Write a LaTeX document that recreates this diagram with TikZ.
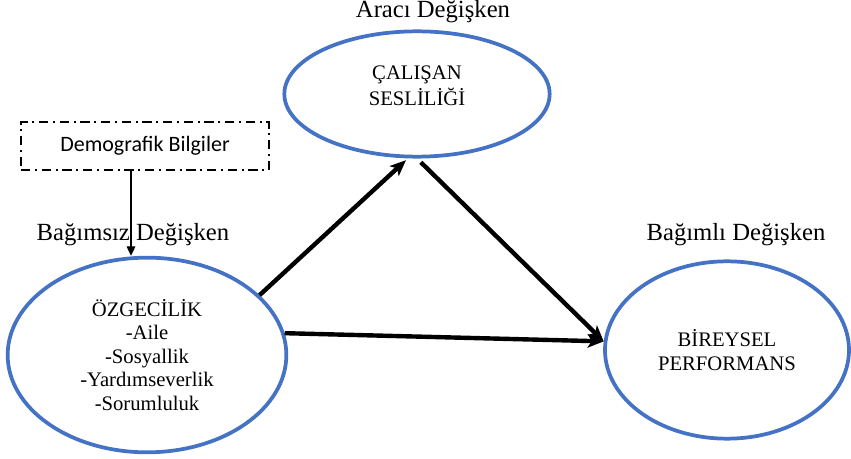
\documentclass[tikz,border=0pt]{standalone}
\usepackage{fontspec}
\setmainfont{Liberation Serif}
\newfontfamily\calibrifont{Carlito}
\usetikzlibrary{arrows.meta,shapes.geometric}
\definecolor{ovalblue}{HTML}{4472C4}
\tikzset{
  oval/.style={ellipse,draw=ovalblue,line width=2.8pt,inner sep=0pt,align=center,
    font=\fontsize{15.5}{17.6}\selectfont},
  varlabel/.style={inner sep=0pt,font=\fontsize{18.5}{22}\selectfont},
  bigarrow/.style={-{Stealth[length=12pt,width=10pt,inset=3pt]},line width=3.3pt},
}
\begin{document}
\begin{tikzpicture}[x=0.75pt,y=-0.75pt]
\useasboundingbox (0,0) rectangle (851,459);
% the three variables
\node[oval,minimum width=209pt,minimum height=146pt] (oz) at (147,355)
  {\"OZGEC\.IL\.IK\\-Aile\\-Sosyallik\\-Yard\i mseverlik\\-Sorumluluk};
\node[oval,minimum width=199pt,minimum height=94pt] (cs) at (417,94) {};
\node[inner sep=0pt,align=center,font=\fontsize{15.5}{19.5}\selectfont] (csText) at (417,86)
  {\c{C}ALI\c{S}AN\\SESL\.IL\.I\u{G}\.I};
\node[oval,minimum width=183pt,minimum height=133pt] (bp) at (727,350)
  {B\.IREYSEL\\PERFORMANS};
% labels
\node[varlabel] (aracLbl) at (433,12) {Arac\i{} De\u{g}i\c{s}ken};
\node[varlabel] (bagLbl) at (133,235) {Ba\u{g}\i ms\i z De\u{g}i\c{s}ken};
\node[varlabel] (bagmLbl) at (736,235) {Ba\u{g}\i ml\i{} De\u{g}i\c{s}ken};
% control box
\node[draw,line width=1.3pt,dash pattern=on 7pt off 3.5pt on 1.5pt off 3.5pt,
  minimum width=186pt,minimum height=36pt,font=\calibrifont\fontsize{16.5}{20}\selectfont]
  (demo) at (145,146) {Demografik Bilgiler};
\draw[-{Triangle[length=7pt,width=6.5pt]},line width=0.8pt] ([xshift=-10.5pt]demo.south) -- ([xshift=-10.5pt]demo.south |- oz.north);
% paths
\draw[bigarrow,shorten >=2pt] (oz.28) -- (cs.262);
\draw[bigarrow,shorten <=4pt] (cs.south) -- (bp.176);
\draw[bigarrow] (oz.9) -- (bp.176);
\end{tikzpicture}
\end{document}
